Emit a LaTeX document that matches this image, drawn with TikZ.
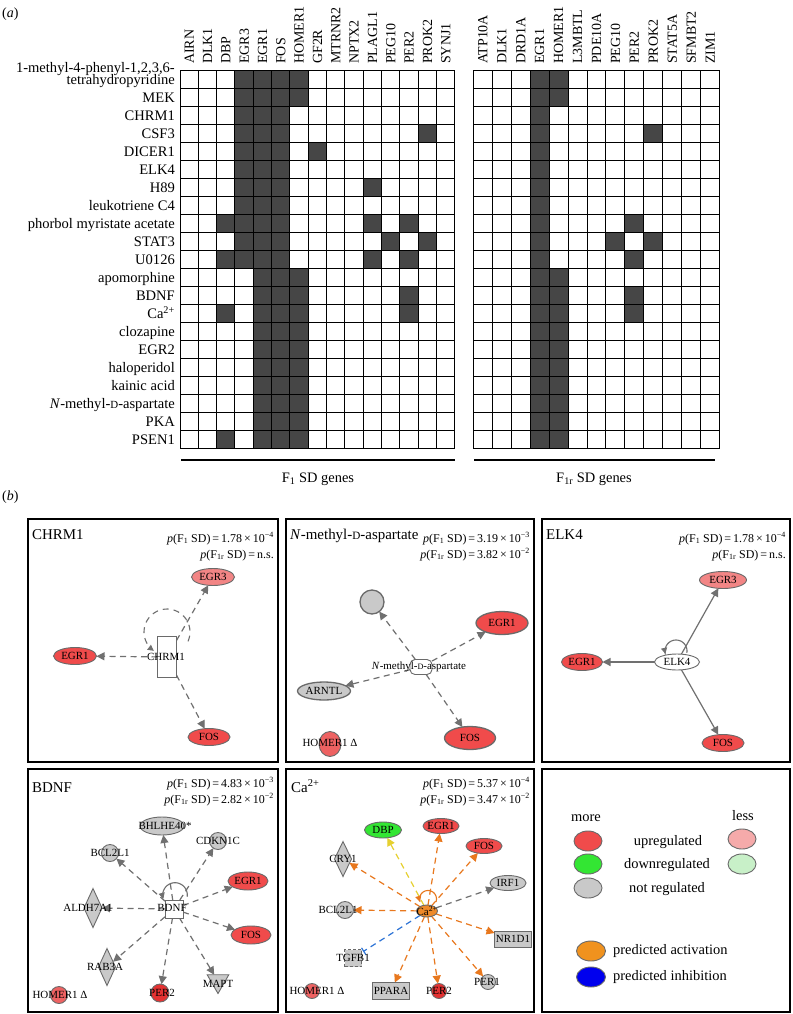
\documentclass[tikz,border=0pt]{standalone}
\usepackage{fontspec}
\setmainfont{Liberation Serif}
\usepackage{graphicx}
\usetikzlibrary{arrows.meta,shapes.geometric}
\pgfdeclarelayer{bg}
\pgfsetlayers{bg,main}

\definecolor{cellfill}{HTML}{464646}
\definecolor{upred}{HTML}{F04B4B}
\definecolor{lessred}{HTML}{F28585}
\definecolor{homred}{HTML}{EE6262}
\definecolor{perred}{HTML}{E53232}
\definecolor{nodegray}{HTML}{C9C9C9}
\definecolor{edgegray}{HTML}{707070}
\definecolor{bordergray}{HTML}{6A6A6A}
\definecolor{upgreen}{HTML}{33E633}
\definecolor{legless}{HTML}{F5AAAA}
\definecolor{leglgreen}{HTML}{C8F0C8}
\definecolor{caorange}{HTML}{EE8A2A}
\definecolor{arrorange}{HTML}{E8781E}
\definecolor{arryellow}{HTML}{E6D030}
\definecolor{arrblue}{HTML}{2E74D6}
\definecolor{legorange}{HTML}{F0921E}
\definecolor{legblue}{HTML}{0000EE}

\newcommand{\nfont}{\fontsize{11}{12}\selectfont}
\newcommand{\gfont}{\fontsize{14}{16}\selectfont}
\newcommand{\rfont}{\fontsize{14.6}{16}\selectfont}
\newcommand{\tfont}{\fontsize{15}{17}\selectfont}
\newcommand{\pfont}{\fontsize{12}{13}\selectfont}
\newcommand{\lfont}{\fontsize{14.5}{16}\selectfont}
\newcommand{\smallD}{\scalebox{0.75}{D}}
\newcommand{\cellL}[2]{\fill[cellfill] ({180+(#2-1)*18.33},{70.7+(#1-1)*18}) rectangle ++(18.33,18);}
\newcommand{\cellR}[2]{\fill[cellfill] ({473.3+(#2-1)*18.95},{70.7+(#1-1)*18}) rectangle ++(18.95,18);}

\tikzset{
 rowlab/.style={anchor=base east, inner sep=0pt, font=\rfont},
 collab/.style={rotate=90, anchor=base west, inner sep=0pt, font=\gfont},
 gridline/.style={draw=black, line width=1bp, line cap=rect},
 panelbox/.style={draw=black, line width=1.8bp},
 ptext/.style={anchor=base east, inner sep=0pt, font=\pfont},
 ttext/.style={anchor=base west, inner sep=0pt, font=\tfont},
 shp/.style={draw=bordergray, line width=0.9bp, inner sep=0pt, outer sep=0pt},
 ell/.style={shp, ellipse},
 lab/.style={inner sep=0pt, font=\nfont},
 legtext/.style={inner sep=0pt, font=\lfont},
 dedge/.style={draw=edgegray, line width=1.2bp, dash pattern=on 6bp off 4.5bp, -{Triangle[length=8bp,width=8bp]}},
 sedge/.style={draw=edgegray, line width=1.2bp, -{Triangle[length=8bp,width=8bp]}},
 loopedge/.style={draw=edgegray, line width=1.1bp, -{Triangle[length=6bp,width=6bp]}},
 oedge/.style={dedge, draw=arrorange},
 yedge/.style={dedge, draw=arryellow},
 bedge/.style={draw=arrblue, line width=1.2bp, dash pattern=on 6bp off 4.5bp, -{Bar[width=8bp,line width=1.2bp]}},
 legell/.style={ell, minimum width=28bp, minimum height=20bp}
}

\begin{document}
\begin{tikzpicture}[x=1bp,y=-1bp]
\useasboundingbox (0,0) rectangle (793,1014);
\begin{pgfonlayer}{bg}
\fill[white] (0,0) rectangle (793,1014);
\end{pgfonlayer}

% ---------------- (a) ----------------
\node[anchor=base west, inner sep=0pt, font=\gfont] (tagA) at (2,17) {(\textit{a})};

% filled cells, left grid
\foreach \r in {1,...,11} {\cellL{\r}{4}}
\foreach \r in {1,...,21} {\cellL{\r}{5}\cellL{\r}{6}}
\foreach \r in {1,2,12,13,...,21} {\cellL{\r}{7}}
\foreach \r/\c in {9/3,11/3,14/3,21/3,5/8,7/11,9/11,11/11,10/12,9/13,11/13,13/13,14/13,4/14,10/14} {\cellL{\r}{\c}}
% filled cells, right grid
\foreach \r in {1,...,21} {\cellR{\r}{4}}
\foreach \r in {1,2,12,13,...,21} {\cellR{\r}{5}}
\foreach \r/\c in {10/8,9/9,11/9,13/9,14/9,4/10,10/10} {\cellR{\r}{\c}}

% grid lines
\foreach \i in {0,...,15} \draw[gridline] ({180+\i*18.33},70.7) -- ({180+\i*18.33},448.7);
\foreach \j in {0,...,21} \draw[gridline] (180,{70.7+\j*18}) -- (454.95,{70.7+\j*18});
\foreach \i in {0,...,13} \draw[gridline] ({473.3+\i*18.95},70.7) -- ({473.3+\i*18.95},448.7);
\foreach \j in {0,...,21} \draw[gridline] (473.3,{70.7+\j*18}) -- (719.65,{70.7+\j*18});

% column headers
\foreach \t [count=\i] in {AIRN,DLK1,DBP,EGR3,EGR1,FOS,HOMER1,GF2R,MTRNR2,NPTX2,PLAGL1,PEG10,PER2,PROK2,SYNJ1}
  \node[collab] (hl\i) at ({180+(\i-0.5)*18.33+4.6},64) {\t};
\foreach \t [count=\i] in {ATP10A,DLK1,DRD1A,EGR1,HOMER1,L3MBTL,PDE10A,PEG10,PER2,PROK2,STAT5A,SFMBT2,ZIM1}
  \node[collab] (hr\i) at ({473.3+(\i-0.5)*18.95+4.6},64) {\t};

% row labels
\node[rowlab] (row1a) at (175,72) {1-methyl-4-phenyl-1,2,3,6-};
\node[rowlab] (row1b) at (175,84.5) {tetrahydropyridine};
\foreach \t [count=\i from 2] in {MEK,CHRM1,CSF3,DICER1,ELK4,H89,leukotriene C4,phorbol myristate acetate,STAT3,U0126,apomorphine,BDNF,{Ca\textsuperscript{2+}},clozapine,EGR2,haloperidol,kainic acid,{\textit{N}-methyl-\smallD-aspartate},PKA,PSEN1}
  \node[rowlab] (row\i) at (175,{70.7+(\i-0.5)*18+4.6}) {\t};

% underlines and group labels
\coordinate (ulL1) at (181,460); \coordinate (ulL2) at (455,460);
\coordinate (ulR1) at (474,460); \coordinate (ulR2) at (715,460);
\draw[line width=1.2bp] (ulL1) -- (ulL2);
\draw[line width=1.2bp] (ulR1) -- (ulR2);
\node[anchor=base, inner sep=0pt, font=\lfont] (glabL) at (318,482) {F\textsubscript{1} SD genes};
\node[anchor=base, inner sep=0pt, font=\lfont] (glabR) at (594,482) {F\textsubscript{1r} SD genes};

% ---------------- (b) ----------------
\node[anchor=base west, inner sep=0pt, font=\gfont] (tagB) at (2,500) {(\textit{b})};

\draw[panelbox] (28,519) rectangle (278,762);
\draw[panelbox] (286,519) rectangle (534,762);
\draw[panelbox] (542,519) rectangle (790,762);
\draw[panelbox] (28,769) rectangle (278,1012);
\draw[panelbox] (286,769) rectangle (534,1012);
\draw[panelbox] (542,769) rectangle (790,1012);

% ===== Panel CHRM1 =====
\node[ttext] (t1) at (32,539) {CHRM1};
\node[ptext] (p1a) at (274,542) {\textit{p}(F\textsubscript{1} SD)\,=\,1.78\,×\,10\textsuperscript{−4}};
\node[ptext] (p1b) at (274,558) {\textit{p}(F\textsubscript{1r} SD)\,=\,n.s.};
\node[ell, fill=lessred, minimum width=43bp, minimum height=17bp] (c1egr3) at (213,577) {};
\node[lab] (c1egr3L) at (c1egr3) {EGR3};
\node[ell, fill=upred, minimum width=43bp, minimum height=17bp] (c1egr1) at (75,656) {};
\node[lab] (c1egr1L) at (c1egr1) {EGR1};
\node[ell, fill=upred, minimum width=42bp, minimum height=17bp] (c1fos) at (209,737) {};
\node[lab] (c1fosL) at (c1fos) {FOS};
\node[shp, rectangle, fill=white, minimum width=19bp, minimum height=41bp] (c1chrm) at (167,657) {};
\node[lab] (c1chrmL) at (166,657) {CHRM1};
\begin{pgfonlayer}{bg}
\draw[dedge] (c1chrm) -- (c1egr1);
\draw[dedge] (c1chrm) -- (c1egr3);
\draw[dedge] (c1chrm) -- (c1fos);
\draw[loopedge, dash pattern=on 6bp off 5bp] plot[smooth, domain=-24:235, samples=40] ({167+23*cos(\x)},{632-23*sin(\x)});
\end{pgfonlayer}

% ===== Panel N-methyl-D-aspartate =====
\node[ttext] (t2) at (290,539) {\textit{N}-methyl-\smallD-aspartate};
\node[ptext] (p2a) at (530,542) {\textit{p}(F\textsubscript{1} SD)\,=\,3.19\,×\,10\textsuperscript{−3}};
\node[ptext] (p2b) at (530,558) {\textit{p}(F\textsubscript{1r} SD)\,=\,3.82\,×\,10\textsuperscript{−2}};
\node[shp, circle, fill=nodegray, minimum size=24bp, line width=1.3bp] (c2gray) at (372,602) {};
\node[ell, fill=upred, minimum width=52bp, minimum height=23bp, line width=1.3bp] (c2egr1) at (502,623) {};
\node[lab] (c2egr1L) at (c2egr1) {EGR1};
\node[shp, rounded corners=5bp, fill=white, minimum width=22bp, minimum height=15bp] (c2nmda) at (421,667) {};
\node[lab] (c2nmdaL) at (419,667) {\textit{N}-methyl-\smallD-aspartate};
\node[ell, fill=nodegray, minimum width=53bp, minimum height=18bp, line width=1.3bp] (c2arntl) at (324,691) {};
\node[lab] (c2arntlL) at (c2arntl) {ARNTL};
\node[ell, fill=upred, minimum width=51bp, minimum height=23bp, line width=1.3bp] (c2fos) at (470,738) {};
\node[lab] (c2fosL) at (c2fos) {FOS};
\node[ell, fill=homred, minimum width=22bp, minimum height=25bp] (c2hom) at (330,744) {};
\node[lab] (c2homL) at (330,743) {HOMER1 Δ};
\begin{pgfonlayer}{bg}
\draw[dedge] (c2nmda) -- (c2gray);
\draw[dedge] (c2nmda) -- (c2egr1);
\draw[dedge] (c2nmda) -- (c2arntl);
\draw[dedge] (c2nmda) -- (c2fos);
\end{pgfonlayer}

% ===== Panel ELK4 =====
\node[ttext] (t3) at (546,539) {ELK4};
\node[ptext] (p3a) at (786,542) {\textit{p}(F\textsubscript{1} SD)\,=\,1.78\,×\,10\textsuperscript{−4}};
\node[ptext] (p3b) at (786,558) {\textit{p}(F\textsubscript{1r} SD)\,=\,n.s.};
\node[ell, fill=lessred, minimum width=47bp, minimum height=17bp] (c3egr3) at (723,580) {};
\node[lab] (c3egr3L) at (c3egr3) {EGR3};
\node[ell, fill=upred, minimum width=41bp, minimum height=17bp] (c3egr1) at (582,662) {};
\node[lab] (c3egr1L) at (c3egr1) {EGR1};
\node[ell, fill=white, minimum width=45bp, minimum height=16bp] (c3elk) at (677,662) {};
\node[lab] (c3elkL) at (c3elk) {ELK4};
\node[ell, fill=upred, minimum width=42bp, minimum height=17bp] (c3fos) at (723,743) {};
\node[lab] (c3fosL) at (c3fos) {FOS};
\begin{pgfonlayer}{bg}
\draw[sedge] (c3elk) -- (c3egr1);
\draw[sedge] (c3elk) -- (c3egr3);
\draw[sedge] (c3elk) -- (c3fos);
\draw[loopedge] plot[smooth, domain=-10:195, samples=30] ({676+11*cos(\x)},{651-11*sin(\x)});
\end{pgfonlayer}

% ===== Panel BDNF =====
\node[ttext] (t4) at (32,792) {BDNF};
\node[ptext] (p4a) at (274,787) {\textit{p}(F\textsubscript{1} SD)\,=\,4.83\,×\,10\textsuperscript{−3}};
\node[ptext] (p4b) at (274,803) {\textit{p}(F\textsubscript{1r} SD)\,=\,2.82\,×\,10\textsuperscript{−2}};
\node[ell, fill=nodegray, minimum width=44bp, minimum height=18bp] (c4bhl) at (162,826) {};
\node[lab] (c4bhlL) at (165,826) {BHLHE40*};
\node[shp, circle, fill=nodegray, minimum size=17bp] (c4cdk) at (218,841) {};
\node[lab] (c4cdkL) at (218,841) {CDKN1C};
\node[shp, circle, fill=nodegray, minimum size=17bp] (c4bcl) at (110,853) {};
\node[lab] (c4bclL) at (110,853) {BCL2L1};
\node[ell, fill=upred, minimum width=40bp, minimum height=18bp] (c4egr1) at (248,881) {};
\node[lab] (c4egr1L) at (c4egr1) {EGR1};
\node[shp, diamond, fill=nodegray, minimum width=18bp, minimum height=39bp] (c4ald) at (93,908) {};
\node[lab] (c4aldL) at (88,908) {ALDH7A1};
\node[shp, rectangle, fill=white, minimum width=18bp, minimum height=18bp] (c4bdnf) at (174,909) {};
\node[lab] (c4bdnfL) at (172,908) {BDNF};
\node[ell, fill=upred, minimum width=40bp, minimum height=18bp] (c4fos) at (251,935) {};
\node[lab] (c4fosL) at (c4fos) {FOS};
\node[shp, diamond, fill=nodegray, minimum width=17bp, minimum height=37bp] (c4rab) at (107,967) {};
\node[lab] (c4rabL) at (105,967) {RAB3A};
\node[shp, regular polygon, regular polygon sides=3, shape border rotate=180, fill=nodegray, minimum size=25bp] (c4mapt) at (218,981) {};
\node[lab] (c4maptL) at (218,984) {MAPT};
\node[shp, circle, fill=perred, minimum size=18bp] (c4per2) at (160,993) {};
\node[lab] (c4per2L) at (162,993) {PER2};
\node[shp, circle, fill=homred, minimum size=17bp] (c4hom) at (59,995) {};
\node[lab] (c4homL) at (60,995) {HOMER1 Δ};
\begin{pgfonlayer}{bg}
\foreach \tg in {c4bhl,c4cdk,c4bcl,c4egr1,c4ald,c4fos,c4rab,c4mapt,c4per2}
  \draw[dedge] (c4bdnf) -- (\tg);
\draw[loopedge] plot[smooth, domain=-8:198, samples=30] ({175+12.3*cos(\x)},{895-12.3*sin(\x)});
\end{pgfonlayer}

% ===== Panel Ca2+ =====
\node[ttext] (t5) at (291,792) {Ca\textsuperscript{2+}};
\node[ptext] (p5a) at (530,787) {\textit{p}(F\textsubscript{1} SD)\,=\,5.37\,×\,10\textsuperscript{−4}};
\node[ptext] (p5b) at (530,803) {\textit{p}(F\textsubscript{1r} SD)\,=\,3.47\,×\,10\textsuperscript{−2}};
\node[ell, fill=upgreen, minimum width=37bp, minimum height=16bp] (c5dbp) at (383,830) {};
\node[lab] (c5dbpL) at (c5dbp) {DBP};
\node[ell, fill=upred, minimum width=36bp, minimum height=15bp] (c5egr1) at (441,826) {};
\node[lab] (c5egr1L) at (c5egr1) {EGR1};
\node[ell, fill=upred, minimum width=36bp, minimum height=15bp] (c5fos) at (484,846) {};
\node[lab] (c5fosL) at (c5fos) {FOS};
\node[shp, diamond, fill=nodegray, minimum width=17bp, minimum height=35bp] (c5cry) at (343,859) {};
\node[lab] (c5cryL) at (343,859) {CRY1};
\node[ell, fill=nodegray, minimum width=36bp, minimum height=15bp] (c5irf) at (508,883) {};
\node[lab] (c5irfL) at (c5irf) {IRF1};
\node[ell, fill=caorange, minimum width=21bp, minimum height=12bp] (c5ca) at (427,911) {};
\node[lab] (c5caL) at (427,911) {Ca\textsuperscript{2+}};
\node[shp, circle, fill=nodegray, minimum size=17bp] (c5bcl) at (345,910) {};
\node[lab] (c5bclL) at (338,910) {BCL2L1};
\node[shp, rectangle, fill=nodegray, minimum width=37bp, minimum height=16bp] (c5nr) at (513,939) {};
\node[lab] (c5nrL) at (c5nr) {NR1D1};
\node[shp, rectangle, fill=nodegray, dash pattern=on 3bp off 2bp, minimum width=17bp, minimum height=17bp] (c5tgf) at (353,958) {};
\node[lab] (c5tgfL) at (353,958) {TGFB1};
\node[shp, circle, fill=nodegray, minimum size=15bp] (c5per1) at (488,982) {};
\node[lab] (c5per1L) at (487,982) {PER1};
\node[shp, rectangle, fill=nodegray, minimum width=37bp, minimum height=17bp] (c5ppara) at (391,991) {};
\node[lab] (c5pparaL) at (c5ppara) {PPARA};
\node[shp, circle, fill=perred, minimum size=15bp] (c5per2) at (439,991) {};
\node[lab] (c5per2L) at (439,991) {PER2};
\node[shp, circle, fill=homred, minimum size=15bp] (c5hom) at (312,991) {};
\node[lab] (c5homL) at (317,991) {HOMER1 Δ};
\begin{pgfonlayer}{bg}
\foreach \tg in {c5egr1,c5fos,c5cry,c5bcl,c5nr,c5ppara,c5per2,c5per1}
  \draw[oedge] (c5ca) -- (\tg);
\draw[yedge] (c5ca) -- (c5dbp);
\draw[dedge] (c5ca) -- (c5irf);
\draw[bedge, shorten >=2bp] (c5ca) -- (c5tgf);
\draw[loopedge, draw=arrorange] plot[smooth, domain=-20:200, samples=30] ({428+8.5*cos(\x)},{899-8.5*sin(\x)});
\end{pgfonlayer}

% ===== Legend =====
\node[legtext] (lgmore) at (586,818) {more};
\node[legtext] (lgless) at (743,816) {less};
\node[legell, fill=upred] (lgup) at (588,841) {};
\node[legell, fill=upgreen] (lgdown) at (588,864) {};
\node[legell, fill=nodegray] (lgnot) at (588,888) {};
\node[legell, fill=legless] (lgupl) at (742,839) {};
\node[legell, fill=leglgreen] (lgdownl) at (742,864) {};
\node[legtext] (lgupT) at (668,842) {upregulated};
\node[legtext] (lgdownT) at (667,865) {downregulated};
\node[legtext] (lgnotT) at (667,889) {not regulated};
\node[legell, fill=legorange, minimum width=29bp] (lgact) at (591,951) {};
\node[legell, fill=legblue, minimum width=29bp] (lginh) at (591,977) {};
\node[legtext, anchor=west] (lgactT) at (613,951) {predicted activation};
\node[legtext, anchor=west] (lginhT) at (613,977) {predicted inhibition};

\end{tikzpicture}
\end{document}
